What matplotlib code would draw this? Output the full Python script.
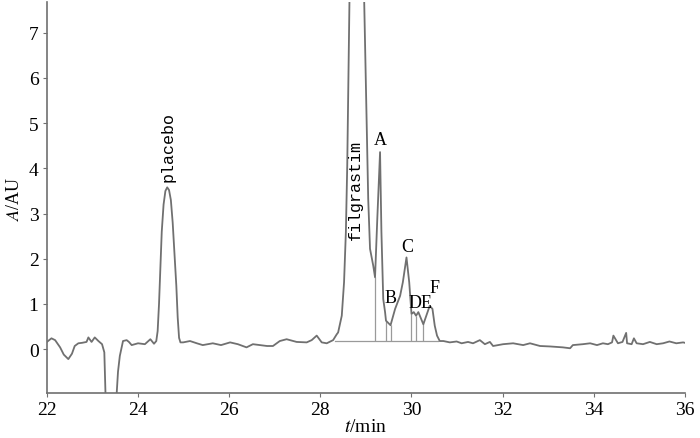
import numpy as np
import matplotlib
matplotlib.use("Agg")
import matplotlib.pyplot as plt

plt.rcParams["mathtext.fontset"] = "stix"

# chromatogram trace (t in min, A in AU)
t = [22.00, 22.10, 22.18, 22.29, 22.37, 22.47, 22.55, 22.61, 22.69, 22.77,
     22.87, 22.91, 22.98, 23.05, 23.13, 23.21, 23.26, 23.30, 23.38, 23.49,
     23.53, 23.56, 23.60, 23.67, 23.75, 23.80, 23.86, 24.00, 24.15, 24.27,
     24.35, 24.40, 24.43, 24.46, 24.49, 24.52, 24.56, 24.60, 24.64, 24.68,
     24.72, 24.76, 24.80, 24.84, 24.87, 24.90, 24.93, 24.99, 25.14, 25.29,
     25.42, 25.64, 25.82, 26.02, 26.19, 26.38, 26.52, 26.67, 26.83, 26.96,
     27.11, 27.26, 27.48, 27.70, 27.81, 27.92, 28.03, 28.14, 28.28, 28.36,
     28.39, 28.47, 28.52, 28.56, 28.59, 28.61, 28.64, 28.80, 28.96, 28.99,
     29.02, 29.05, 29.09, 29.16, 29.20, 29.25, 29.31, 29.34, 29.38, 29.42,
     29.44, 29.49, 29.54, 29.64, 29.75, 29.81, 29.89, 29.95, 30.00, 30.05,
     30.10, 30.15, 30.20, 30.26, 30.40, 30.46, 30.51, 30.56, 30.62, 30.70,
     30.84, 30.99, 31.10, 31.24, 31.35, 31.50, 31.61, 31.72, 31.79, 32.01,
     32.23, 32.45, 32.60, 32.82, 33.04, 33.32, 33.48, 33.54, 33.76, 33.92,
     34.07, 34.20, 34.31, 34.40, 34.43, 34.53, 34.63, 34.71, 34.73, 34.83,
     34.88, 34.94, 35.08, 35.23, 35.38, 35.52, 35.66, 35.81, 35.96, 36.00]
A = [0.16, 0.24, 0.20, 0.04, -0.12, -0.22, -0.10, 0.07, 0.13, 0.14,
     0.16, 0.26, 0.16, 0.26, 0.18, 0.11, -0.07, -1.50, -2.50, -1.50,
     -1.00, -0.50, -0.15, 0.18, 0.20, 0.16, 0.09, 0.13, 0.11, 0.22,
     0.12, 0.18, 0.40, 1.00, 1.80, 2.60, 3.20, 3.50, 3.58, 3.52,
     3.30, 2.80, 2.10, 1.40, 0.70, 0.25, 0.15, 0.15, 0.18, 0.13,
     0.09, 0.13, 0.09, 0.15, 0.11, 0.04, 0.11, 0.09, 0.07, 0.07,
     0.18, 0.22, 0.16, 0.15, 0.20, 0.30, 0.15, 0.13, 0.20, 0.33,
     0.37, 0.74, 1.48, 2.59, 4.06, 5.54, 7.80, 14.0, 7.80, 6.28,
     4.80, 3.33, 2.22, 1.85, 1.59, 2.90, 4.36, 2.59, 1.11, 0.82,
     0.63, 0.58, 0.53, 0.89, 1.18, 1.48, 2.03, 1.48, 0.78, 0.82,
     0.74, 0.82, 0.70, 0.55, 0.96, 0.89, 0.52, 0.30, 0.18, 0.18,
     0.15, 0.17, 0.13, 0.16, 0.13, 0.20, 0.11, 0.16, 0.07, 0.11,
     0.13, 0.09, 0.13, 0.07, 0.06, 0.04, 0.02, 0.09, 0.11, 0.13,
     0.09, 0.13, 0.11, 0.15, 0.30, 0.13, 0.16, 0.36, 0.13, 0.11,
     0.24, 0.13, 0.11, 0.16, 0.11, 0.13, 0.17, 0.13, 0.15, 0.14]

# integration baseline and drop lines
base_t = [28.33, 30.58]
base_A = 0.18
drop_t = [29.20, 29.44, 29.54, 30.00, 30.10, 30.26]
drop_A = [1.59, 0.63, 0.53, 0.78, 0.74, 0.55]

# peak labels
labels = ["A", "B", "C", "DE", "F"]
label_t = [29.31, 29.53, 29.90, 30.19, 30.50]
label_A = [4.65, 1.15, 2.28, 1.04, 1.36]

fig = plt.figure(figsize=(7, 4.39), dpi=100)
ax = fig.add_axes([0.067, 0.1025, 0.9115, 0.8905])

gray = "#707070"
ax.plot(base_t, [base_A, base_A], color="#9a9a9a", lw=0.9)
ax.vlines(drop_t, base_A, drop_A, color="#9a9a9a", lw=0.9)
ax.plot(t, A, color=gray, lw=1.3)

serif = "Liberation Serif"
for s, x, y in zip(labels, label_t, label_A):
    ax.text(x, y, s, fontsize=13, family=serif, ha="center", va="center")
ax.text(24.65, 4.5, "placebo", rotation=90, fontsize=12,
        family="Liberation Mono", ha="center", va="center")
ax.text(28.76, 3.55, "filgrastim", rotation=90, fontsize=12,
        family="Liberation Mono", ha="center", va="center")

ax.set_xlim(22, 36)
ax.set_ylim(-0.97, 7.68)
ax.set_xticks(np.arange(22, 37, 2))
ax.set_yticks(np.arange(0, 8, 1))
for lab in ax.get_xticklabels() + ax.get_yticklabels():
    lab.set_family(serif)
    lab.set_fontsize(14)
ax.tick_params(direction="out", length=3, color=gray, pad=3)
ax.set_xlabel(r"$t$/min", fontsize=14, family=serif, labelpad=0)
ax.set_ylabel(r"$A$/AU", fontsize=13, family=serif, labelpad=4)
for side in ["top", "right"]:
    ax.spines[side].set_visible(False)
for side in ["left", "bottom"]:
    ax.spines[side].set_color(gray)
    ax.spines[side].set_linewidth(1.2)

fig.savefig("out.png", dpi=100)
